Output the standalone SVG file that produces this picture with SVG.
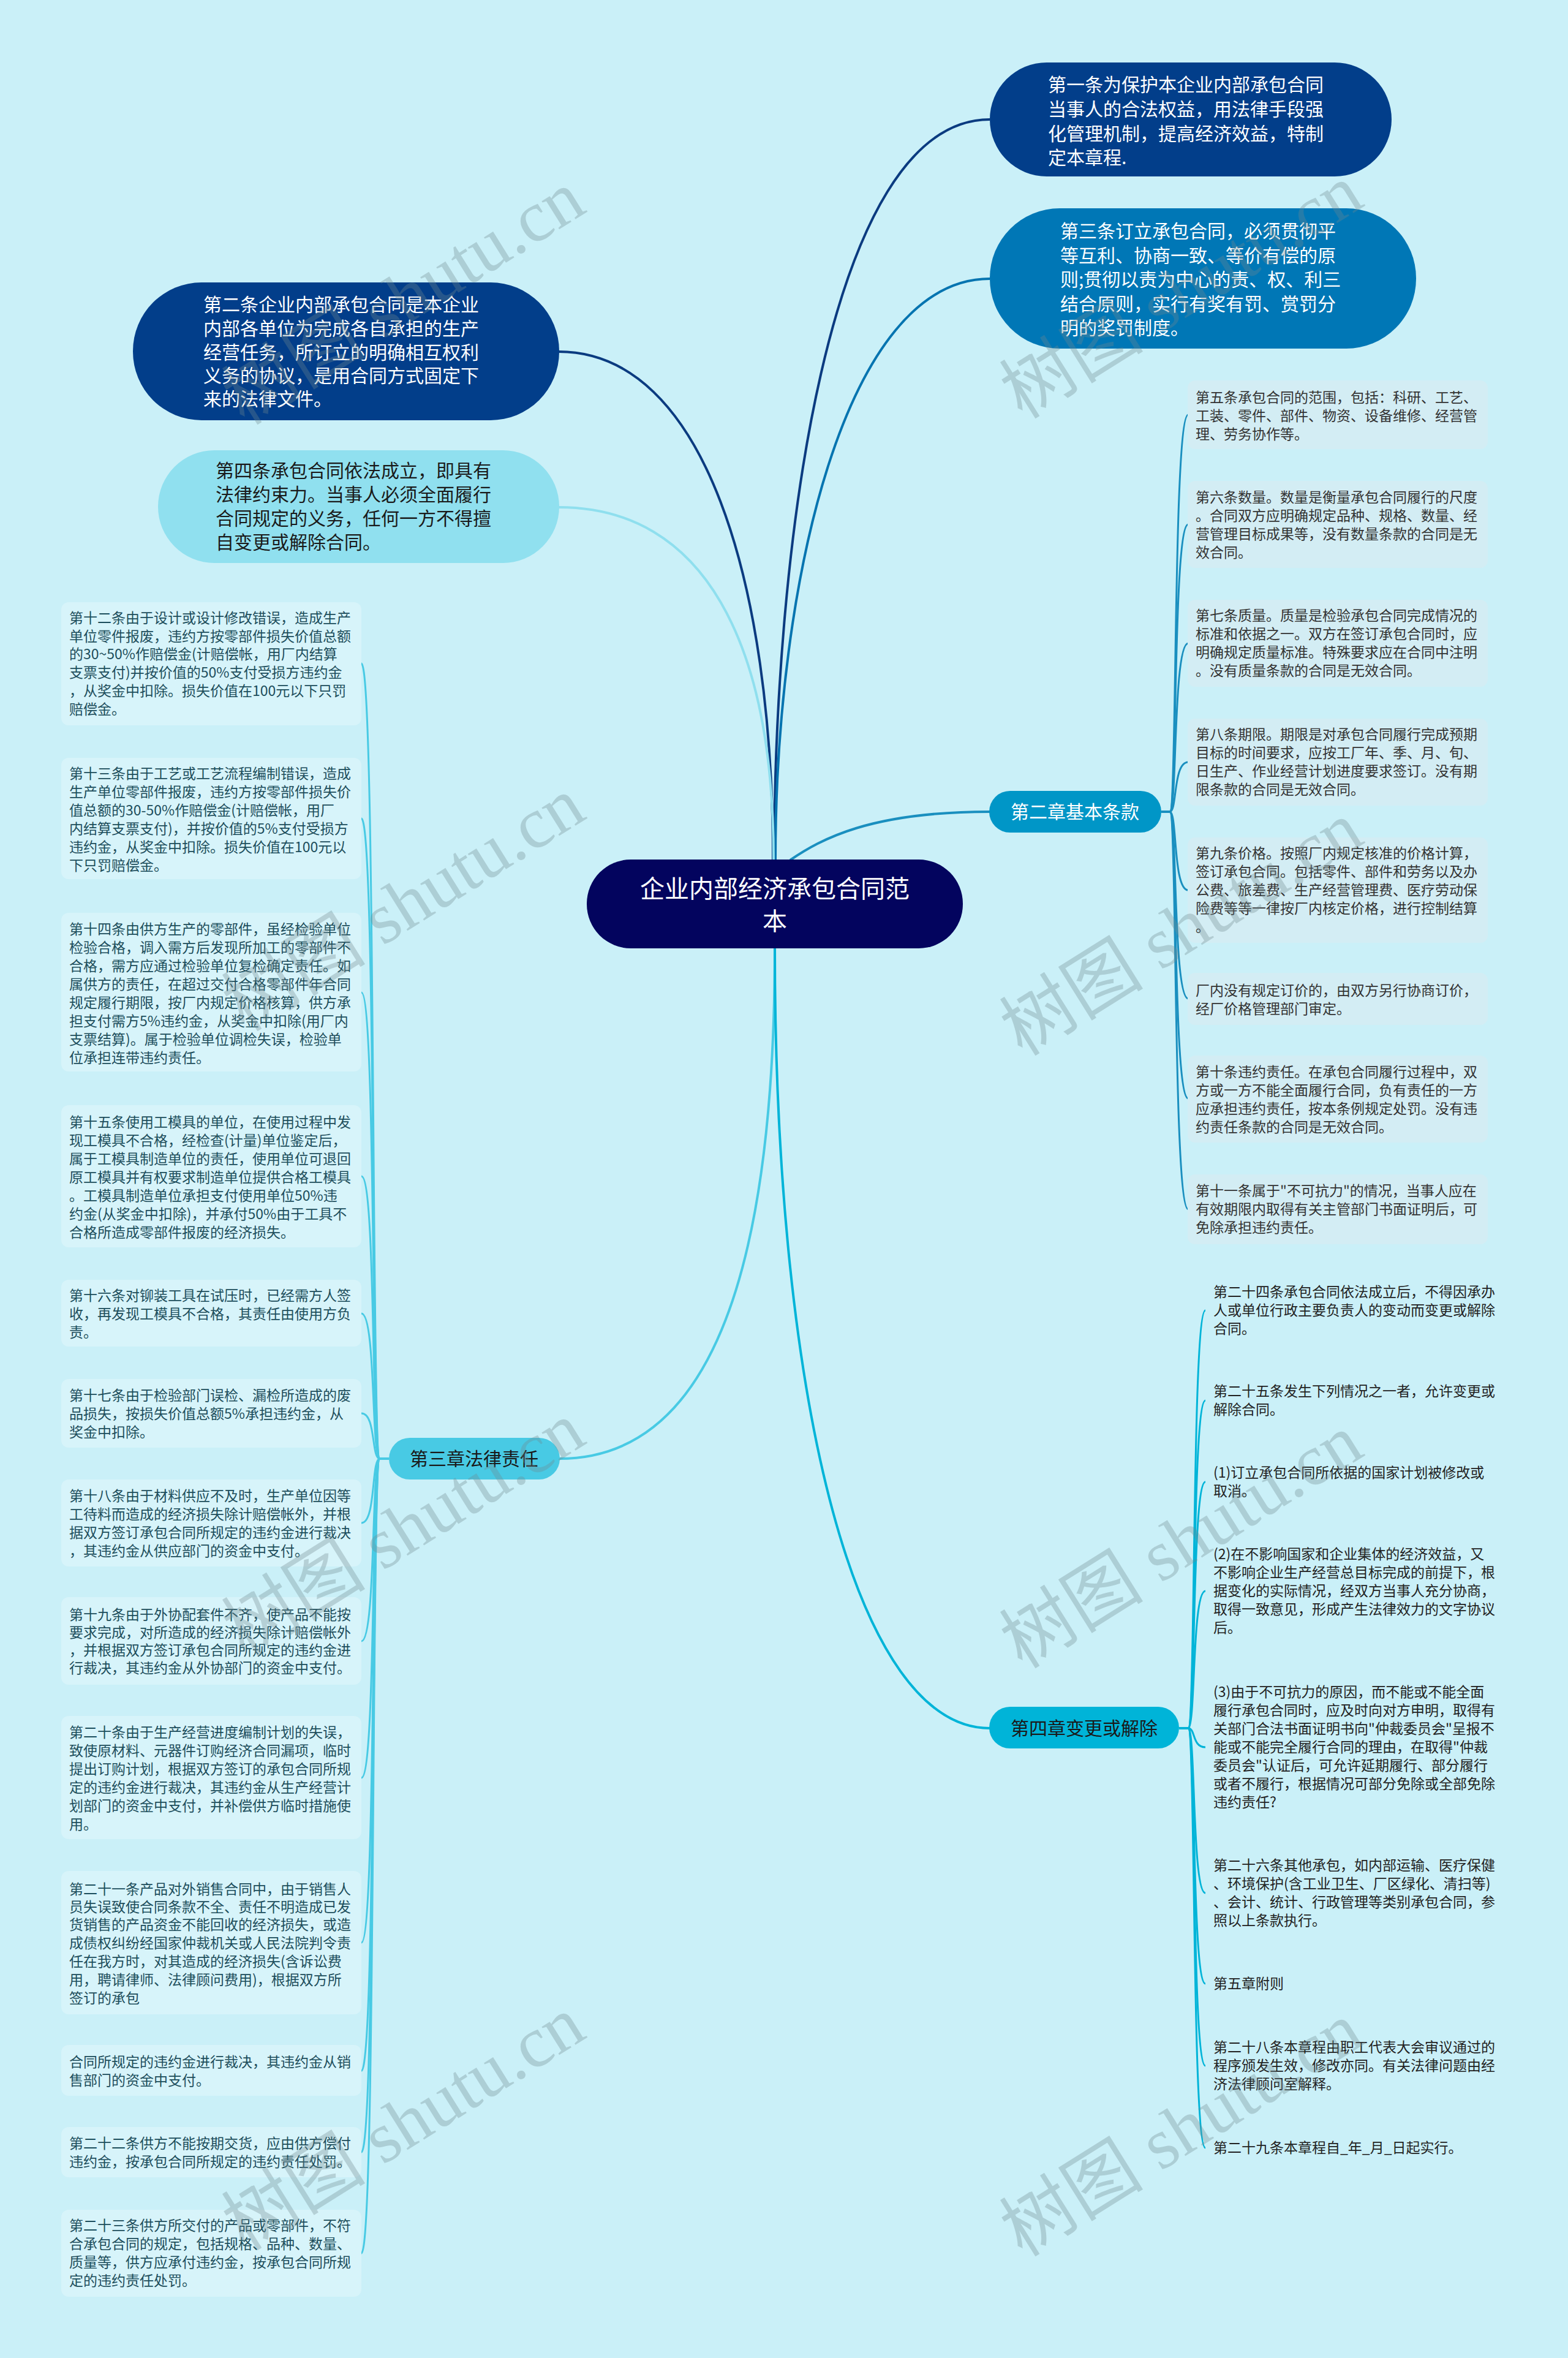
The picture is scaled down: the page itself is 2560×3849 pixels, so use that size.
<svg xmlns="http://www.w3.org/2000/svg" width="2560" height="3849" viewBox="0 0 2560 3849">
<style>
text{font-family:"Noto Sans CJK SC","Noto Sans",sans-serif;}
.t30w{font-size:30px;fill:#ffffff;}
.t30d{font-size:30px;fill:#1a1a1a;}
.root{font-size:40px;fill:#ffffff;text-anchor:middle;}
.leafR{font-size:23px;fill:#333333;}
.leafL{font-size:23px;fill:#1d4e5c;}
.leaf4{font-size:23px;fill:#222222;}
.boxR{fill:#d3edf4;}
.boxL{fill:#ffffff;fill-opacity:0.25;}
.c2{fill:none;stroke:#1a8fbf;stroke-width:3;}
.c3{fill:none;stroke:#48cae4;stroke-width:3;}
.c4{fill:none;stroke:#00b4d8;stroke-width:3;}
.wm{font-family:"Liberation Serif","Noto Sans CJK SC",serif;font-size:118px;fill:#6f8a90;fill-opacity:0.33;text-anchor:middle;}
</style>
<rect x="0" y="0" width="2560" height="3849" fill="#caf0f8"/>

<g id="connectors">
  <path d="M1264,1404 C1264,900 1350,195 1616,195" fill="none" stroke="#0b3b80" stroke-width="4"/>
  <path d="M1266,1404 C1266,950 1380,455 1616,455" fill="none" stroke="#0574b0" stroke-width="4"/>
  <path d="M1262,1404 C1262,950 1150,574 912,574" fill="none" stroke="#0b3b80" stroke-width="4"/>
  <path d="M1263,1404 C1263,1050 1150,828 912,828" fill="none" stroke="#8fdfee" stroke-width="4"/>
  <path d="M1290,1404 C1340,1370 1420,1325 1616,1325" fill="none" stroke="#1a8fbf" stroke-width="4"/>
  <path d="M1265,1546 C1265,2100 1150,2381 913,2381" fill="none" stroke="#48cae4" stroke-width="4"/>
  <path d="M1265,1546 C1265,2300 1400,2821 1616,2821" fill="none" stroke="#00b4d8" stroke-width="4"/>

  <path class="c2" d="M1896,1325 L1910,1325 C1922,1325 1915,677 1940,677"/>
  <path class="c2" d="M1896,1325 L1910,1325 C1922,1325 1915,856 1940,856"/>
  <path class="c2" d="M1896,1325 L1910,1325 C1922,1325 1915,1050 1940,1050"/>
  <path class="c2" d="M1896,1325 L1910,1325 C1922,1325 1915,1244 1940,1244"/>
  <path class="c2" d="M1896,1325 L1910,1325 C1922,1325 1915,1453 1940,1453"/>
  <path class="c2" d="M1896,1325 L1910,1325 C1922,1325 1915,1630 1940,1630"/>
  <path class="c2" d="M1896,1325 L1910,1325 C1922,1325 1915,1793 1940,1793"/>
  <path class="c2" d="M1896,1325 L1910,1325 C1922,1325 1915,1974 1940,1974"/>

  <path class="c3" d="M635,2381 L620,2381 C606,2381 614,1083 590,1083"/>
  <path class="c3" d="M635,2381 L620,2381 C606,2381 614,1336 590,1336"/>
  <path class="c3" d="M635,2381 L620,2381 C606,2381 614,1620 590,1620"/>
  <path class="c3" d="M635,2381 L620,2381 C606,2381 614,1920 590,1920"/>
  <path class="c3" d="M635,2381 L620,2381 C606,2381 614,2144 590,2144"/>
  <path class="c3" d="M635,2381 L620,2381 C606,2381 614,2307 590,2307"/>
  <path class="c3" d="M635,2381 L620,2381 C606,2381 614,2486 590,2486"/>
  <path class="c3" d="M635,2381 L620,2381 C606,2381 614,2679 590,2679"/>
  <path class="c3" d="M635,2381 L620,2381 C606,2381 614,2902 590,2902"/>
  <path class="c3" d="M635,2381 L620,2381 C606,2381 614,3171 590,3171"/>
  <path class="c3" d="M635,2381 L620,2381 C606,2381 614,3380 590,3380"/>
  <path class="c3" d="M635,2381 L620,2381 C606,2381 614,3513 590,3513"/>
  <path class="c3" d="M635,2381 L620,2381 C606,2381 614,3678 590,3678"/>

  <path class="c4" d="M1925,2821 L1940,2821 C1952,2821 1946,2139 1968,2139"/>
  <path class="c4" d="M1925,2821 L1940,2821 C1952,2821 1946,2286 1968,2286"/>
  <path class="c4" d="M1925,2821 L1940,2821 C1952,2821 1946,2419 1968,2419"/>
  <path class="c4" d="M1925,2821 L1940,2821 C1952,2821 1946,2597 1968,2597"/>
  <path class="c4" d="M1925,2821 L1940,2821 C1952,2821 1946,2852 1968,2852"/>
  <path class="c4" d="M1925,2821 L1940,2821 C1952,2821 1946,3090 1968,3090"/>
  <path class="c4" d="M1925,2821 L1940,2821 C1952,2821 1946,3238 1968,3238"/>
  <path class="c4" d="M1925,2821 L1940,2821 C1952,2821 1946,3372 1968,3372"/>
  <path class="c4" d="M1925,2821 L1940,2821 C1952,2821 1946,3506 1968,3506"/>
</g>

<g id="root">
  <rect x="958" y="1403" width="614" height="145" rx="72" fill="#03045e"/>
  <text class="root" x="1265" y="1465">企业内部经济承包合同范</text>
  <text class="root" x="1265" y="1518">本</text>
</g>

<g id="n1">
  <rect x="1616" y="102" width="656" height="186" rx="93" fill="#023e8a"/>
  <text class="t30w" x="1711"><tspan x="1711" y="149">第一条为保护本企业内部承包合同</tspan><tspan x="1711" y="189">当事人的合法权益，用法律手段强</tspan><tspan x="1711" y="229">化管理机制，提高经济效益，特制</tspan><tspan x="1711" y="268">定本章程.</tspan></text>
</g>

<g id="n3">
  <rect x="1616" y="340" width="696" height="229" rx="114" fill="#0077b6"/>
  <text class="t30w"><tspan x="1731" y="388">第三条订立承包合同，必须贯彻平</tspan><tspan x="1731" y="428">等互利、协商一致、等价有偿的原</tspan><tspan x="1731" y="467">则;贯彻以责为中心的责、权、利三</tspan><tspan x="1731" y="507">结合原则，实行有奖有罚、赏罚分</tspan><tspan x="1731" y="546">明的奖罚制度。</tspan></text>
</g>

<g id="n2">
  <rect x="217" y="461" width="696" height="225" rx="112" fill="#023e8a"/>
  <text class="t30w"><tspan x="332" y="508">第二条企业内部承包合同是本企业</tspan><tspan x="332" y="547">内部各单位为完成各自承担的生产</tspan><tspan x="332" y="586">经营任务，所订立的明确相互权利</tspan><tspan x="332" y="624">义务的协议，是用合同方式固定下</tspan><tspan x="332" y="662">来的法律文件。</tspan></text>
</g>

<g id="n4">
  <rect x="258" y="735" width="655" height="184" rx="92" fill="#90e0ef"/>
  <text class="t30d"><tspan x="352" y="779">第四条承包合同依法成立，即具有</tspan><tspan x="352" y="818">法律约束力。当事人必须全面履行</tspan><tspan x="352" y="857">合同规定的义务，任何一方不得擅</tspan><tspan x="352" y="896">自变更或解除合同。</tspan></text>
</g>

<g id="ch2">
  <rect x="1615" y="1291" width="281" height="68" rx="34" fill="#0096c7"/>
  <text class="t30w" x="1755" y="1336" text-anchor="middle">第二章基本条款</text>
</g>

<g id="ch3">
  <rect x="635" y="2347" width="279" height="68" rx="34" fill="#48cae4"/>
  <text class="t30d" x="774" y="2392" text-anchor="middle">第三章法律责任</text>
</g>

<g id="ch4">
  <rect x="1615" y="2786" width="310" height="68" rx="34" fill="#00b4d8"/>
  <text class="t30d" x="1770" y="2832" text-anchor="middle">第四章变更或解除</text>
</g>

<g id="a5">
  <rect class="boxR" x="1939" y="621" width="490" height="112" rx="12"/>
  <text class="leafR"><tspan x="1952" y="657">第五条承包合同的范围，包括：科研、工艺、</tspan><tspan x="1952" y="687">工装、零件、部件、物资、设备维修、经营管</tspan><tspan x="1952" y="717">理、劳务协作等。</tspan></text>
</g>
<g id="a6">
  <rect class="boxR" x="1939" y="785" width="490" height="142" rx="12"/>
  <text class="leafR"><tspan x="1952" y="820">第六条数量。数量是衡量承包合同履行的尺度</tspan><tspan x="1952" y="850">。合同双方应明确规定品种、规格、数量、经</tspan><tspan x="1952" y="880">营管理目标成果等，没有数量条款的合同是无</tspan><tspan x="1952" y="910">效合同。</tspan></text>
</g>
<g id="a7">
  <rect class="boxR" x="1939" y="979" width="490" height="142" rx="12"/>
  <text class="leafR"><tspan x="1952" y="1013">第七条质量。质量是检验承包合同完成情况的</tspan><tspan x="1952" y="1043">标准和依据之一。双方在签订承包合同时，应</tspan><tspan x="1952" y="1073">明确规定质量标准。特殊要求应在合同中注明</tspan><tspan x="1952" y="1103">。没有质量条款的合同是无效合同。</tspan></text>
</g>
<g id="a8">
  <rect class="boxR" x="1939" y="1173" width="490" height="142" rx="12"/>
  <text class="leafR"><tspan x="1952" y="1207">第八条期限。期限是对承包合同履行完成预期</tspan><tspan x="1952" y="1237">目标的时间要求，应按工厂年、季、月、旬、</tspan><tspan x="1952" y="1267">日生产、作业经营计划进度要求签订。没有期</tspan><tspan x="1952" y="1297">限条款的合同是无效合同。</tspan></text>
</g>
<g id="a9">
  <rect class="boxR" x="1939" y="1367" width="490" height="172" rx="12"/>
  <text class="leafR"><tspan x="1952" y="1401">第九条价格。按照厂内规定核准的价格计算，</tspan><tspan x="1952" y="1431">签订承包合同。包括零件、部件和劳务以及办</tspan><tspan x="1952" y="1461">公费、旅差费、生产经营管理费、医疗劳动保</tspan><tspan x="1952" y="1491">险费等等一律按厂内核定价格，进行控制结算</tspan><tspan x="1952" y="1521">。</tspan></text>
</g>
<g id="a9b">
  <rect class="boxR" x="1939" y="1588" width="490" height="85" rx="12"/>
  <text class="leafR"><tspan x="1952" y="1625">厂内没有规定订价的，由双方另行协商订价，</tspan><tspan x="1952" y="1655">经厂价格管理部门审定。</tspan></text>
</g>
<g id="a10">
  <rect class="boxR" x="1939" y="1723" width="490" height="142" rx="12"/>
  <text class="leafR"><tspan x="1952" y="1758">第十条违约责任。在承包合同履行过程中，双</tspan><tspan x="1952" y="1788">方或一方不能全面履行合同，负有责任的一方</tspan><tspan x="1952" y="1818">应承担违约责任，按本条例规定处罚。没有违</tspan><tspan x="1952" y="1848">约责任条款的合同是无效合同。</tspan></text>
</g>
<g id="a11">
  <rect class="boxR" x="1939" y="1917" width="490" height="114" rx="12"/>
  <text class="leafR"><tspan x="1952" y="1952">第十一条属于"不可抗力"的情况，当事人应在</tspan><tspan x="1952" y="1982">有效期限内取得有关主管部门书面证明后，可</tspan><tspan x="1952" y="2012">免除承担违约责任。</tspan></text>
</g>

<g id="a12">
  <rect class="boxL" x="100" y="983" width="490" height="201" rx="12"/>
  <text class="leafL"><tspan x="113" y="1017">第十二条由于设计或设计修改错误，造成生产</tspan><tspan x="113" y="1047">单位零件报废，违约方按零部件损失价值总额</tspan><tspan x="113" y="1076">的30~50%作赔偿金(计赔偿帐，用厂内结算</tspan><tspan x="113" y="1106">支票支付)并按价值的50%支付受损方违约金</tspan><tspan x="113" y="1136">，从奖金中扣除。损失价值在100元以下只罚</tspan><tspan x="113" y="1166">赔偿金。</tspan></text>
</g>
<g id="a13">
  <rect class="boxL" x="100" y="1237" width="490" height="198" rx="12"/>
  <text class="leafL"><tspan x="113" y="1271">第十三条由于工艺或工艺流程编制错误，造成</tspan><tspan x="113" y="1301">生产单位零部件报废，违约方按零部件损失价</tspan><tspan x="113" y="1331">值总额的30-50%作赔偿金(计赔偿帐，用厂</tspan><tspan x="113" y="1361">内结算支票支付)，并按价值的5%支付受损方</tspan><tspan x="113" y="1391">违约金，从奖金中扣除。损失价值在100元以</tspan><tspan x="113" y="1421">下只罚赔偿金。</tspan></text>
</g>
<g id="a14">
  <rect class="boxL" x="100" y="1490" width="490" height="259" rx="12"/>
  <text class="leafL"><tspan x="113" y="1525">第十四条由供方生产的零部件，虽经检验单位</tspan><tspan x="113" y="1555">检验合格，调入需方后发现所加工的零部件不</tspan><tspan x="113" y="1585">合格，需方应通过检验单位复检确定责任。如</tspan><tspan x="113" y="1615">属供方的责任，在超过交付合格零部件年合同</tspan><tspan x="113" y="1645">规定履行期限，按厂内规定价格核算，供方承</tspan><tspan x="113" y="1675">担支付需方5%违约金，从奖金中扣除(用厂内</tspan><tspan x="113" y="1705">支票结算)。属于检验单位调检失误，检验单</tspan><tspan x="113" y="1735">位承担连带违约责任。</tspan></text>
</g>
<g id="a15">
  <rect class="boxL" x="100" y="1804" width="490" height="232" rx="12"/>
  <text class="leafL"><tspan x="113" y="1840">第十五条使用工模具的单位，在使用过程中发</tspan><tspan x="113" y="1870">现工模具不合格，经检查(计量)单位鉴定后，</tspan><tspan x="113" y="1900">属于工模具制造单位的责任，使用单位可退回</tspan><tspan x="113" y="1930">原工模具并有权要求制造单位提供合格工模具</tspan><tspan x="113" y="1960">。工模具制造单位承担支付使用单位50%违</tspan><tspan x="113" y="1990">约金(从奖金中扣除)，并承付50%由于工具不</tspan><tspan x="113" y="2020">合格所造成零部件报废的经济损失。</tspan></text>
</g>
<g id="a16">
  <rect class="boxL" x="100" y="2089" width="490" height="109" rx="12"/>
  <text class="leafL"><tspan x="113" y="2123">第十六条对铆装工具在试压时，已经需方人签</tspan><tspan x="113" y="2153">收，再发现工模具不合格，其责任由使用方负</tspan><tspan x="113" y="2183">责。</tspan></text>
</g>
<g id="a17">
  <rect class="boxL" x="100" y="2251" width="490" height="112" rx="12"/>
  <text class="leafL"><tspan x="113" y="2286">第十七条由于检验部门误检、漏检所造成的废</tspan><tspan x="113" y="2316">品损失，按损失价值总额5%承担违约金，从</tspan><tspan x="113" y="2346">奖金中扣除。</tspan></text>
</g>
<g id="a18">
  <rect class="boxL" x="100" y="2415" width="490" height="142" rx="12"/>
  <text class="leafL"><tspan x="113" y="2450">第十八条由于材料供应不及时，生产单位因等</tspan><tspan x="113" y="2480">工待料而造成的经济损失除计赔偿帐外，并根</tspan><tspan x="113" y="2510">据双方签订承包合同所规定的违约金进行裁决</tspan><tspan x="113" y="2540">，其违约金从供应部门的资金中支付。</tspan></text>
</g>
<g id="a19">
  <rect class="boxL" x="100" y="2607" width="490" height="143" rx="12"/>
  <text class="leafL"><tspan x="113" y="2644">第十九条由于外协配套件不齐，使产品不能按</tspan><tspan x="113" y="2673">要求完成，对所造成的经济损失除计赔偿帐外</tspan><tspan x="113" y="2702">，并根据双方签订承包合同所规定的违约金进</tspan><tspan x="113" y="2731">行裁决，其违约金从外协部门的资金中支付。</tspan></text>
</g>
<g id="a20">
  <rect class="boxL" x="100" y="2801" width="490" height="201" rx="12"/>
  <text class="leafL"><tspan x="113" y="2836">第二十条由于生产经营进度编制计划的失误，</tspan><tspan x="113" y="2866">致使原材料、元器件订购经济合同漏项，临时</tspan><tspan x="113" y="2896">提出订购计划，根据双方签订的承包合同所规</tspan><tspan x="113" y="2926">定的违约金进行裁决，其违约金从生产经营计</tspan><tspan x="113" y="2956">划部门的资金中支付，并补偿供方临时措施使</tspan><tspan x="113" y="2986">用。</tspan></text>
</g>
<g id="a21">
  <rect class="boxL" x="100" y="3054" width="490" height="234" rx="12"/>
  <text class="leafL"><tspan x="113" y="3092">第二十一条产品对外销售合同中，由于销售人</tspan><tspan x="113" y="3121">员失误致使合同条款不全、责任不明造成已发</tspan><tspan x="113" y="3150">货销售的产品资金不能回收的经济损失，或造</tspan><tspan x="113" y="3180">成债权纠纷经国家仲裁机关或人民法院判令责</tspan><tspan x="113" y="3210">任在我方时，对其造成的经济损失(含诉讼费</tspan><tspan x="113" y="3240">用，聘请律师、法律顾问费用)，根据双方所</tspan><tspan x="113" y="3270">签订的承包</tspan></text>
</g>
<g id="a21b">
  <rect class="boxL" x="100" y="3338" width="490" height="83" rx="12"/>
  <text class="leafL"><tspan x="113" y="3374">合同所规定的违约金进行裁决，其违约金从销</tspan><tspan x="113" y="3404">售部门的资金中支付。</tspan></text>
</g>
<g id="a22">
  <rect class="boxL" x="100" y="3472" width="490" height="82" rx="12"/>
  <text class="leafL"><tspan x="113" y="3507">第二十二条供方不能按期交货，应由供方偿付</tspan><tspan x="113" y="3537">违约金，按承包合同所规定的违约责任处罚。</tspan></text>
</g>
<g id="a23">
  <rect class="boxL" x="100" y="3607" width="490" height="142" rx="12"/>
  <text class="leafL"><tspan x="113" y="3641">第二十三条供方所交付的产品或零部件，不符</tspan><tspan x="113" y="3671">合承包合同的规定，包括规格、品种、数量、</tspan><tspan x="113" y="3701">质量等，供方应承付违约金，按承包合同所规</tspan><tspan x="113" y="3731">定的违约责任处罚。</tspan></text>
</g>

<g id="b24">
  <text class="leaf4"><tspan x="1981" y="2117">第二十四条承包合同依法成立后，不得因承办</tspan><tspan x="1981" y="2147">人或单位行政主要负责人的变动而变更或解除</tspan><tspan x="1981" y="2177">合同。</tspan></text>
</g>
<g id="b25">
  <text class="leaf4"><tspan x="1981" y="2279">第二十五条发生下列情况之一者，允许变更或</tspan><tspan x="1981" y="2309">解除合同。</tspan></text>
</g>
<g id="b25a">
  <text class="leaf4"><tspan x="1981" y="2412">(1)订立承包合同所依据的国家计划被修改或</tspan><tspan x="1981" y="2442">取消。</tspan></text>
</g>
<g id="b25b">
  <text class="leaf4"><tspan x="1981" y="2545">(2)在不影响国家和企业集体的经济效益，又</tspan><tspan x="1981" y="2575">不影响企业生产经营总目标完成的前提下，根</tspan><tspan x="1981" y="2605">据变化的实际情况，经双方当事人充分协商，</tspan><tspan x="1981" y="2635">取得一致意见，形成产生法律效力的文字协议</tspan><tspan x="1981" y="2665">后。</tspan></text>
</g>
<g id="b25c">
  <text class="leaf4"><tspan x="1981" y="2770">(3)由于不可抗力的原因，而不能或不能全面</tspan><tspan x="1981" y="2800">履行承包合同时，应及时向对方申明，取得有</tspan><tspan x="1981" y="2830">关部门合法书面证明书向"仲裁委员会"呈报不</tspan><tspan x="1981" y="2860">能或不能完全履行合同的理由，在取得"仲裁</tspan><tspan x="1981" y="2890">委员会"认证后，可允许延期履行、部分履行</tspan><tspan x="1981" y="2920">或者不履行，根据情况可部分免除或全部免除</tspan><tspan x="1981" y="2950">违约责任?</tspan></text>
</g>
<g id="b26">
  <text class="leaf4"><tspan x="1981" y="3053">第二十六条其他承包，如内部运输、医疗保健</tspan><tspan x="1981" y="3083">、环境保护(含工业卫生、厂区绿化、清扫等)</tspan><tspan x="1981" y="3113">、会计、统计、行政管理等类别承包合同，参</tspan><tspan x="1981" y="3143">照以上条款执行。</tspan></text>
</g>
<g id="b27">
  <text class="leaf4" x="1981" y="3246">第五章附则</text>
</g>
<g id="b28">
  <text class="leaf4"><tspan x="1981" y="3350">第二十八条本章程由职工代表大会审议通过的</tspan><tspan x="1981" y="3380">程序颁发生效，修改亦同。有关法律问题由经</tspan><tspan x="1981" y="3410">济法律顾问室解释。</tspan></text>
</g>
<g id="b29">
  <text class="leaf4" x="1981" y="3514">第二十九条本章程自_年_月_日起实行。</text>
</g>

<g id="watermarks">
  <text class="wm" transform="translate(680,520) rotate(-32)">树图 shutu.cn</text>
  <text class="wm" transform="translate(1950,510) rotate(-32)">树图 shutu.cn</text>
  <text class="wm" transform="translate(680,1510) rotate(-32)">树图 shutu.cn</text>
  <text class="wm" transform="translate(1950,1550) rotate(-32)">树图 shutu.cn</text>
  <text class="wm" transform="translate(680,2530) rotate(-32)">树图 shutu.cn</text>
  <text class="wm" transform="translate(1950,2550) rotate(-32)">树图 shutu.cn</text>
  <text class="wm" transform="translate(680,3500) rotate(-32)">树图 shutu.cn</text>
  <text class="wm" transform="translate(1950,3510) rotate(-32)">树图 shutu.cn</text>
</g>
</svg>
